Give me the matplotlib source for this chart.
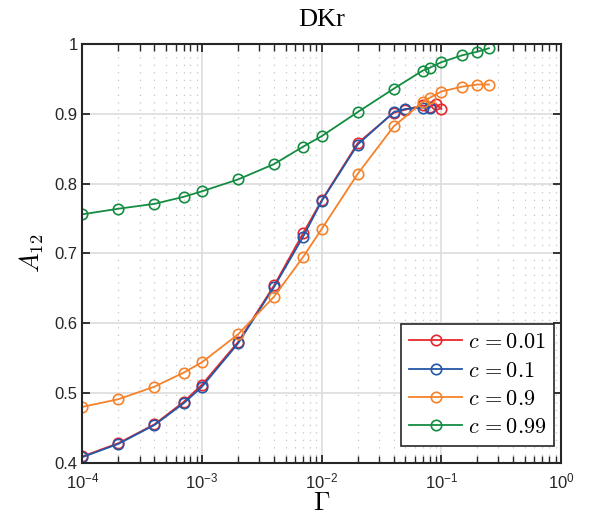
import numpy as np
import matplotlib
matplotlib.use('Agg')
import matplotlib.pyplot as plt
from matplotlib.ticker import FixedLocator, FuncFormatter, LogLocator, NullFormatter

# data
gam_01 = [1e-4, 2e-4, 4e-4, 7e-4, 1e-3, 2e-3, 4e-3, 7e-3, 1e-2, 2e-2, 4e-2, 5e-2, 7e-2, 8e-2, 9e-2, 1e-1]
a_01 = [0.409, 0.428, 0.455, 0.487, 0.512, 0.573, 0.654, 0.729, 0.776, 0.858, 0.9015, 0.906, 0.912, 0.910, 0.914, 0.907]

gam_1 = [1e-4, 2e-4, 4e-4, 7e-4, 1e-3, 2e-3, 4e-3, 7e-3, 1e-2, 2e-2, 4e-2, 5e-2, 7e-2, 8e-2]
a_1 = [0.408, 0.427, 0.454, 0.485, 0.509, 0.571, 0.652, 0.724, 0.775, 0.856, 0.9025, 0.907, 0.909, 0.909]

gam_9 = [1e-4, 2e-4, 4e-4, 7e-4, 1e-3, 2e-3, 4e-3, 7e-3, 1e-2, 2e-2, 4e-2, 7e-2, 8e-2, 1e-1, 1.5e-1, 2e-1, 2.5e-1]
a_9 = [0.480, 0.491, 0.509, 0.529, 0.544, 0.584, 0.638, 0.695, 0.735, 0.814, 0.882, 0.917, 0.923, 0.932, 0.939, 0.942, 0.942]

gam_99 = [1e-4, 2e-4, 4e-4, 7e-4, 1e-3, 2e-3, 4e-3, 7e-3, 1e-2, 2e-2, 4e-2, 7e-2, 8e-2, 1e-1, 1.5e-1, 2e-1, 2.5e-1]
a_99 = [0.756, 0.764, 0.771, 0.781, 0.789, 0.806, 0.828, 0.853, 0.868, 0.9025, 0.936, 0.962, 0.966, 0.974, 0.984, 0.989, 0.994]

labels = [r'$c\,{=}0.01$', r'$c\,{=}0.1$', r'$c\,{=}0.9$', r'$c\,{=}0.99$']
colors = ['#e8262b', '#2457a6', '#f5822a', '#148c42']

plt.rcParams['font.family'] = ['Liberation Sans', 'DejaVu Sans']
plt.rcParams['mathtext.fontset'] = 'cm'

fig = plt.figure(figsize=(5.93, 5.22), dpi=100)
ax = fig.add_axes([0.139, 0.1136, 0.807, 0.802])

series = [(gam_01, a_01), (gam_1, a_1), (gam_9, a_9), (gam_99, a_99)]
for (g, a), lab, col in zip(series, labels, colors):
    ax.plot(g, a, '-o', color=col, mfc='none', mec=col, ms=7.5, mew=1.2,
            lw=1.3, label=lab)

ax.set_xscale('log')
ax.set_xlim(1e-4, 1)
ax.set_ylim(0.4, 1)
ax.yaxis.set_major_locator(FixedLocator([0.4, 0.5, 0.6, 0.7, 0.8, 0.9, 1.0]))
ax.yaxis.set_major_formatter(FuncFormatter(lambda v, p: '1' if abs(v - 1) < 1e-9 else '%.1f' % v))
ax.xaxis.set_major_locator(FixedLocator([1e-4, 1e-3, 1e-2, 1e-1, 1]))
ax.xaxis.set_minor_locator(LogLocator(base=10, subs=np.arange(2, 10)))
ax.xaxis.set_minor_formatter(NullFormatter())

def xfmt(v, p):
    e = int(round(np.log10(v)))
    return r'$\mathregular{10^{%d}}$' % e

ax.xaxis.set_major_formatter(FuncFormatter(xfmt))

ax.grid(True, which='major', color='#dddddd', lw=1.2)
ax.grid(True, which='minor', axis='x', color='#c4c4c4', lw=0.9, ls=(0, (1, 5)))
ax.set_axisbelow(True)

ax.tick_params(which='both', direction='in', top=True, right=True, labelsize=12, colors='#262626')
ax.tick_params(which='major', length=6, width=1.3)
ax.tick_params(which='minor', length=5, width=1.0)
ax.tick_params(axis='x', which='major', pad=6)
for s in ax.spines.values():
    s.set_linewidth(1.5)
    s.set_color('#262626')

ax.set_xlabel(r'$\Gamma$', fontsize=19, labelpad=0)
ax.set_ylabel(r'$A_{12}$', fontsize=19, labelpad=6)
ax.set_title('DKr', fontsize=19, family='Liberation Serif', pad=13)

leg = ax.legend(loc='lower right', bbox_to_anchor=(0.9854, 0.04), fontsize=16,
                frameon=True, fancybox=False, borderaxespad=0.0,
                handlelength=2.4, labelspacing=0.33, borderpad=0.35,
                handletextpad=0.25)
leg.get_frame().set_edgecolor('#262626')
leg.get_frame().set_linewidth(1.2)
leg.get_frame().set_alpha(1)

fig.savefig('out.png', dpi=100)
